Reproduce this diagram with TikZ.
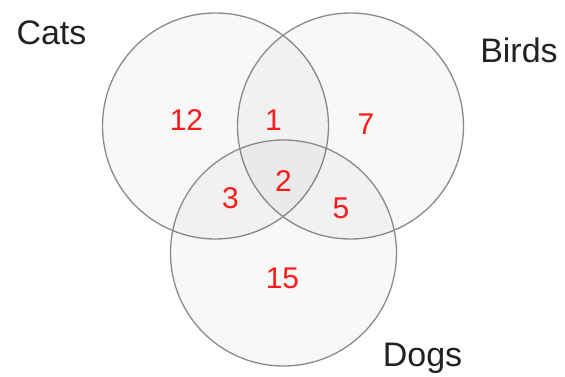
\documentclass[tikz,border=0pt]{standalone}
\usepackage{fontspec}
\setmainfont{Liberation Sans}
\usepackage{tikz}
\usetikzlibrary{positioning}

\definecolor{rimgray}{HTML}{8A8A8A}
\definecolor{labelink}{HTML}{222222}
\definecolor{countred}{HTML}{FF1A1A}

\tikzset{
  setcircle/.style={circle, draw=rimgray, line width=1.3pt, fill=black, fill opacity=0.027, text opacity=1, minimum size=226pt, inner sep=0pt},
  setlabel/.style={text=labelink, font=\fontsize{34}{40}\selectfont},
  count/.style={text=countred, font=\fontsize{30}{36}\selectfont}
}

\begin{document}
\begin{tikzpicture}[x=1pt,y=-1pt]
  \useasboundingbox (0,0) rectangle (565,377); % 画像全体の範囲
  \node[setcircle] (cats) at (215.5,126) {}; % 猫の集合を表す円
  \node[setcircle] (birds) at (350.5,126) {}; % 鳥の集合を表す円
  \node[setcircle] (dogs) at (283.5,253) {}; % 犬の集合を表す円
  \node[setlabel] (catslbl) at (51.5,33) {Cats}; % 左上の見出し
  \node[setlabel] (birdslbl) at (519,50) {Birds}; % 右上の見出し
  \node[setlabel] (dogslbl) at (422.5,358) {Dogs}; % 右下の見出し
  \node[count] (onlycats) at (186.5,120) {12}; % 猫だけ
  \node[count] (catsbirds) at (273.5,120) {1}; % 猫と鳥
  \node[count] (onlybirds) at (366,124.5) {7}; % 鳥だけ
  \node[count] (catsdogs) at (230.5,198) {3}; % 猫と犬
  \node[count] (allthree) at (283.5,181.5) {2}; % 三つとも
  \node[count] (birdsdogs) at (341,208.5) {5}; % 鳥と犬
  \node[count] (onlydogs) at (282.5,278) {15}; % 犬だけ
\end{tikzpicture}
\end{document}
